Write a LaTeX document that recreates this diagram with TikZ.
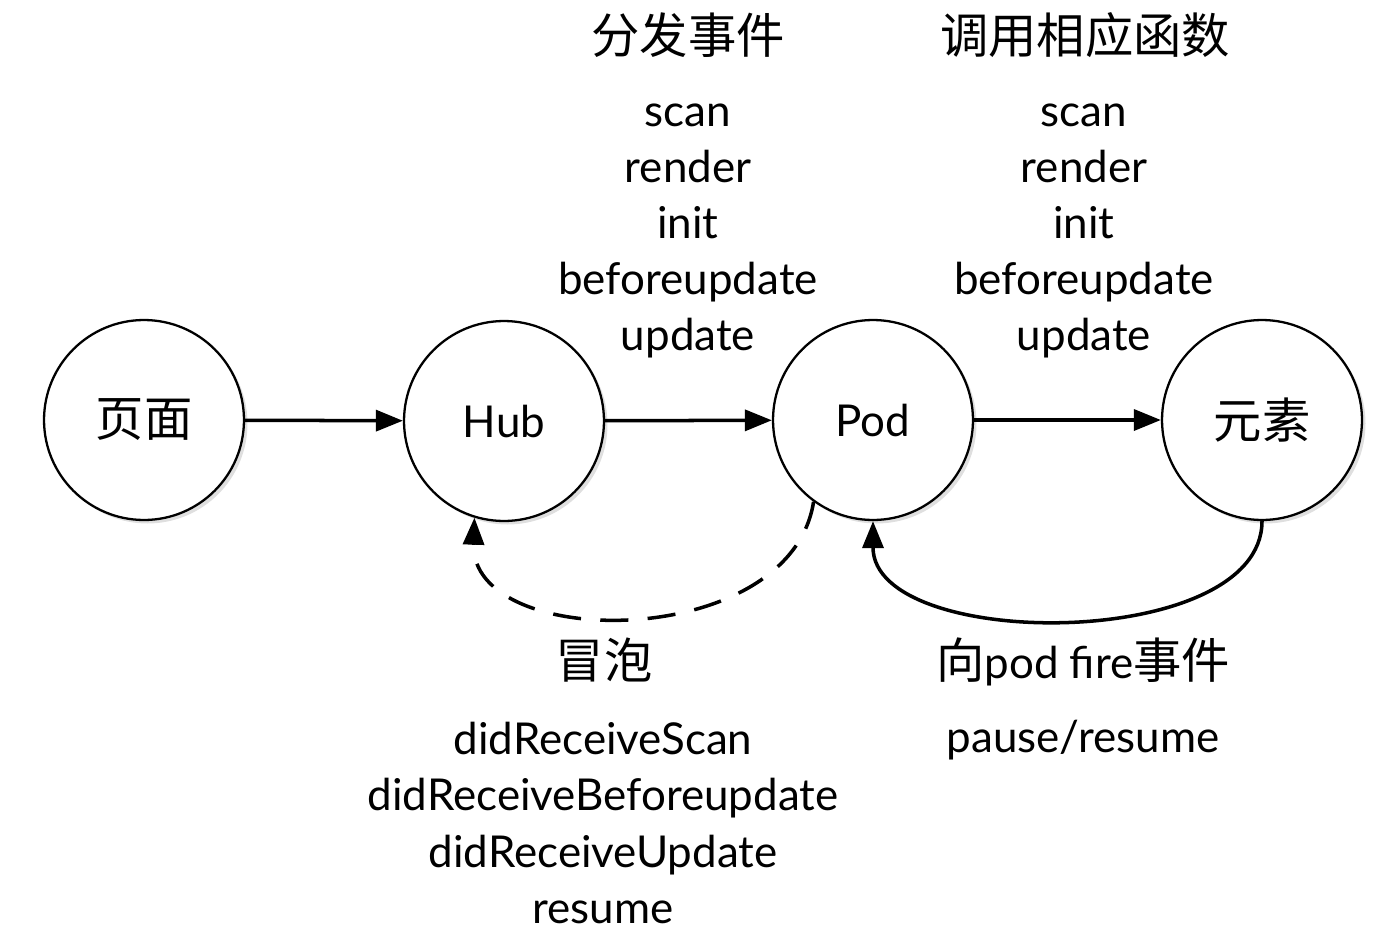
\documentclass[tikz,border=0pt]{standalone}
\usepackage{fontspec}
\setmainfont{Lato}
\newfontfamily\cjk[Scale=1.1]{Noto Sans CJK SC}
\usetikzlibrary{arrows.meta,shadows}
\tikzset{
	state/.style={circle, draw, line width=1.3pt, minimum size=4cm, inner sep=0pt, fill=white, drop shadow={shadow xshift=2pt, shadow yshift=-2pt, opacity=0.25}, font=\fontsize{25}{30}\selectfont},
	flow/.style={line width=2pt, -{Triangle[length=0.54cm, width=0.42cm]}},
	txt/.style={align=center, font=\fontsize{25}{31.9}\selectfont},
}

\begin{document}
\begin{tikzpicture}[x=0.02cm, y=-0.02cm]
			\useasboundingbox (0,0) rectangle (1390,940);
			\node[state] (page) at (144,420) {\cjk 页面};
			\node[state] (hub) at (504,421) {Hub};
			\node[state] (pod) at (873,420) {Pod};
			\node[state] (elem) at (1262,420) {\cjk 元素};
			\draw[flow] (page) -- (hub);
			\draw[flow] (hub) -- (pod);
			\draw[flow] (pod) -- (elem);
			\draw[flow, dash pattern=on 16pt off 11pt] (pod.234) .. controls (790,652) and (470,652) .. (hub.253);
			\draw[flow] (elem.south) .. controls (1262,652) and (873,652) .. (pod.south);
			\node[txt] (dispatch) at (688,35) {\cjk 分发事件};
			\node[txt] (calls) at (1085,35) {\cjk 调用相应函数};
			\node[txt] (events) at (688,231) {scan\\render\\init\\beforeupdate\\update};
			\node[txt] (funcs) at (1084,231) {scan\\render\\init\\beforeupdate\\update};
			\node[txt] (bubble) at (604,660) {\cjk 冒泡};
			\node[txt] (received) at (603,823) {didReceiveScan\\didReceiveBeforeupdate\\didReceiveUpdate\\resume};
			\node[txt] (fire) at (1083,662) {{\cjk 向}pod fire{\cjk 事件}};
			\node[txt] (pause) at (1083,740) {pause/resume};
		\end{tikzpicture}
\end{document}
